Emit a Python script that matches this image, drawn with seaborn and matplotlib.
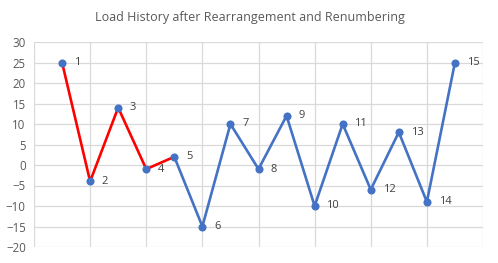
import matplotlib
matplotlib.use("Agg")
import matplotlib.pyplot as plt
import seaborn as sns
import pandas as pd
import numpy as np

point_ids = [1, 2, 3, 4, 5, 6, 7, 8, 9, 10, 11, 12, 13, 14, 15]
loads = [25, -4, 14, -1, 2, -15, 10, -1, 12, -10, 10, -6, 8, -9, 25]
red_ids = [1, 2, 3, 4, 5]
title = "Load History after Rearrangement and Renumbering"

df = pd.DataFrame({"id": point_ids, "load": loads})
df_red = df[df["id"].isin(red_ids)]
df_blue = df[df["id"] >= red_ids[-1]]

sns.set_style("white")
plt.rcParams['font.family'] = ['Open Sans', 'DejaVu Sans']

fig = plt.figure(figsize=(4.98, 2.63), dpi=100)
ax = fig.add_axes([34/498, 1 - 247/263, (483-34)/498, (247-42)/263])

blue = "#4472C4"
red = "#FF0000"
sns.lineplot(data=df_blue, x="id", y="load", color=blue, lw=1.9, ax=ax, sort=False)
sns.lineplot(data=df_red, x="id", y="load", color=red, lw=1.9, ax=ax, sort=False)
sns.scatterplot(data=df, x="id", y="load", color=blue, s=34, edgecolor=blue, linewidth=0, ax=ax, zorder=5)

for i, v in zip(point_ids, loads):
    ax.annotate(str(i), (i, v), xytext=(8.5, 0), textcoords="offset points",
                va="center", ha="left", fontsize=8, color="#404040")

ax.set_xlim(0, 16)
ax.set_ylim(-20, 30)
ax.set_xticks(np.arange(0, 17, 2))
ax.set_yticks(np.arange(-20, 31, 5))
ax.set_xticklabels([])
ax.tick_params(axis="x", length=0)
ax.tick_params(axis="y", length=0, labelsize=8.3, labelcolor="#595959", pad=6)
ax.grid(True, color="#d9d9d9", lw=0.9)
for s in ax.spines.values():
    s.set_visible(False)
ax.set_xlabel("")
ax.set_ylabel("")
fig.text(250/498, 1 - 17/263, title, ha="center", va="center", fontsize=9, color="#595959")

fig.savefig("out.png", dpi=100)
